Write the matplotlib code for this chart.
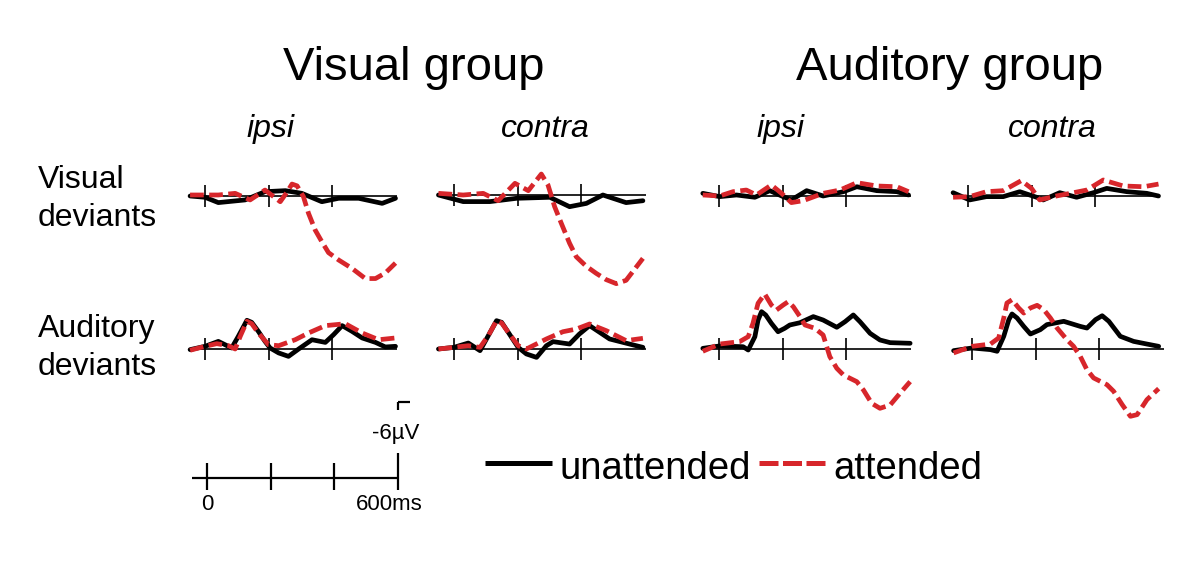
import matplotlib
matplotlib.use("Agg")
import matplotlib.pyplot as plt

plt.rcParams['font.family'] = ['Liberation Sans', 'DejaVu Sans']

# ---- data (time in ms, amplitude in µV, negative plotted up) ----
groups = ["Visual group", "Auditory group"]
sides = ["ipsi", "contra"]
row_labels = ["Visual\ndeviants", "Auditory\ndeviants"]
legend_labels = ["unattended", "attended"]

# visual deviants, visual group, ipsi
t_vv_ipsi_u = [-47, 0, 42, 126, 189, 253, 305, 368, 421, 484, 558, 600]
v_vv_ipsi_u = [0, 0.1, 0.52, 0.31, -0.34, -0.42, -0.21, 0.45, 0.18, 0.18, 0.58, 0.18]
t_vv_ipsi_a = [-47, 0, 42, 95, 142, 189, 237, 258, 274, 290, 310, 326, 347, 368, 389, 421, 463, 505, 537, 568, 600]
v_vv_ipsi_a = [-0.08, -0.08, -0.08, -0.21, 0.31, -0.47, 0.45, -0.3, -0.94, -0.8, 0.05, 1.36, 2.68, 3.6, 4.46, 5.04, 5.7, 6.5, 6.5, 6.06, 5.28]
# visual deviants, visual group, contra
t_vv_contra_u = [-49, 29, 113, 197, 302, 364, 417, 469, 542, 595]
v_vv_contra_u = [0, 0.52, 0.52, 0.26, 0.18, 0.92, 0.66, 0, 0.6, 0.45]
t_vv_contra_a = [-49, 29, 92, 139, 192, 234, 275, 296, 317, 338, 364, 385, 416, 448, 479, 511, 542, 595]
v_vv_contra_a = [-0.13, 0, -0.13, 0.45, -0.92, -0.34, -1.65, -0.79, 0.92, 2.23, 3.8, 4.86, 5.6, 6.17, 6.66, 6.98, 6.72, 4.99]
# visual deviants, auditory group, ipsi
t_va_ipsi_u = [-51, 2, 55, 113, 160, 202, 228, 276, 328, 392, 434, 497, 560, 597]
v_va_ipsi_u = [-0.21, 0.05, -0.08, 0.1, -0.42, 0.05, 0.31, -0.42, 0, -0.34, -0.73, -0.42, -0.34, -0.08]
t_va_ipsi_a = [-51, 2, 44, 86, 118, 165, 197, 228, 265, 328, 381, 434, 497, 560, 597]
v_va_ipsi_a = [-0.08, 0, -0.34, -0.47, -0.08, -0.87, -0.21, 0.52, 0.37, -0.21, -0.47, -1.05, -0.79, -0.73, -0.34]
# visual deviants, auditory group, contra
t_va_contra_u = [-47, 5, 58, 111, 163, 216, 237, 289, 342, 395, 437, 500, 563, 600]
v_va_contra_u = [-0.26, 0.31, 0.05, 0.05, -0.34, 0.1, 0.31, -0.26, 0.1, -0.26, -0.6, -0.34, -0.21, 0]
t_va_contra_a = [-47, 5, 58, 111, 168, 200, 226, 268, 332, 374, 426, 489, 553, 600]
v_va_contra_a = [0.1, 0.05, -0.34, -0.42, -1.21, -0.6, 0.31, 0.05, -0.26, -0.47, -1.26, -0.79, -0.73, -0.94]

# auditory deviants, visual group, ipsi
t_av_ipsi_u = [-47, 0, 42, 84, 105, 132, 147, 168, 189, 205, 232, 263, 295, 337, 379, 405, 432, 463, 495, 537, 568, 600]
v_av_ipsi_u = [0.05, -0.21, -0.6, -0.08, -1.0, -2.26, -2.1, -1.39, -0.6, -0.08, 0.31, 0.58, 0, -0.73, -0.52, -1.13, -1.84, -1.39, -0.87, -0.52, -0.16, -0.21]
t_av_ipsi_a = [-47, 0, 37, 74, 95, 111, 132, 147, 168, 200, 232, 284, 326, 379, 442, 495, 547, 600]
v_av_ipsi_a = [0.1, -0.21, -0.42, -0.26, 0, -1.0, -2.18, -2.0, -1.26, -0.34, -0.26, -0.73, -1.26, -1.84, -1.99, -1.26, -0.73, -0.87]
# auditory deviants, visual group, contra
t_av_contra_u = [-49, 0, 45, 82, 108, 134, 150, 171, 202, 228, 260, 291, 312, 364, 395, 427, 459, 490, 553, 595]
v_av_contra_u = [0, -0.13, -0.47, 0.13, -1.05, -2.23, -2.1, -1.31, -0.13, 0.39, 0.66, -0.26, -0.58, -0.39, -1.18, -1.84, -1.31, -0.79, -0.39, -0.13]
t_av_contra_a = [-49, 0, 45, 82, 108, 134, 150, 171, 202, 228, 291, 343, 385, 427, 480, 542, 595]
v_av_contra_a = [0, -0.13, -0.26, -0.13, -1.05, -2.23, -2.05, -1.31, -0.26, 0, -0.79, -1.36, -1.57, -1.97, -1.44, -0.66, -0.84]
# auditory deviants, auditory group, ipsi
t_aa_ipsi_u = [-51, 2, 76, 92, 113, 123, 134, 147, 165, 186, 207, 223, 255, 297, 328, 371, 397, 423, 444, 476, 507, 539, 602]
v_aa_ipsi_u = [-0.05, -0.24, -0.18, 0.08, -0.97, -2.28, -2.94, -2.68, -2.02, -1.36, -1.63, -1.89, -2.07, -2.55, -2.28, -1.71, -2.15, -2.68, -2.15, -1.23, -0.71, -0.5, -0.45]
t_aa_ipsi_a = [-51, 2, 65, 92, 107, 123, 144, 165, 181, 202, 218, 234, 255, 271, 302, 328, 349, 371, 392, 434, 455, 481, 507, 539, 570, 602]
v_aa_ipsi_a = [0.18, -0.39, -0.58, -0.97, -2.02, -3.6, -4.33, -3.46, -3.07, -3.46, -3.73, -3.33, -2.55, -1.89, -1.63, -1.1, 0.6, 1.52, 2.05, 2.57, 3.23, 4.28, 4.67, 4.41, 3.49, 2.57]
# auditory deviants, auditory group, contra
t_aa_contra_u = [-58, 0, 58, 79, 100, 116, 126, 142, 163, 184, 215, 236, 289, 341, 362, 389, 410, 431, 467, 509, 551, 588]
v_aa_contra_u = [0.13, -0.08, 0.05, 0.18, -1.0, -2.31, -2.76, -2.44, -1.78, -1.18, -1.52, -1.92, -2.18, -1.78, -1.65, -2.31, -2.62, -2.18, -1.0, -0.6, -0.39, -0.21]
t_aa_contra_a = [-58, 0, 58, 84, 100, 110, 126, 147, 163, 184, 205, 226, 247, 268, 299, 320, 341, 362, 383, 425, 446, 473, 499, 520, 551, 588]
v_aa_contra_a = [0.31, -0.21, -0.39, -0.87, -2.44, -3.62, -3.88, -3.23, -2.83, -3.23, -3.44, -3.1, -2.44, -1.65, -0.73, -0.21, 0.58, 1.63, 2.28, 2.81, 3.33, 4.38, 5.3, 5.17, 3.99, 3.12]

time_ticks = [0, 200, 400]

# ---- layout (pixels) ----
W, H = 1200, 567
PX_MS = 0.3175
PX_UV = 12.7
XLIM = (-70, 640)
YLIM = (-6.5, 7.5)
RED = '#d7262b'

fig = plt.figure(figsize=(W / 100, H / 100), dpi=100)


def px_axes(x0, yb):
    left = x0 + XLIM[0] * PX_MS
    width = (XLIM[1] - XLIM[0]) * PX_MS
    top = yb + YLIM[0] * PX_UV
    height = (YLIM[1] - YLIM[0]) * PX_UV
    ax = fig.add_axes([left / W, 1 - (top + height) / H, width / W, height / H])
    ax.set_xlim(*XLIM)
    ax.set_ylim(YLIM[1], YLIM[0])
    ax.axis('off')
    return ax


panels = [
    (205, 196, (t_vv_ipsi_u, v_vv_ipsi_u), (t_vv_ipsi_a, v_vv_ipsi_a)),
    (454, 195, (t_vv_contra_u, v_vv_contra_u), (t_vv_contra_a, v_vv_contra_a)),
    (719, 196, (t_va_ipsi_u, v_va_ipsi_u), (t_va_ipsi_a, v_va_ipsi_a)),
    (968, 196, (t_va_contra_u, v_va_contra_u), (t_va_contra_a, v_va_contra_a)),
    (205, 349, (t_av_ipsi_u, v_av_ipsi_u), (t_av_ipsi_a, v_av_ipsi_a)),
    (454, 349, (t_av_contra_u, v_av_contra_u), (t_av_contra_a, v_av_contra_a)),
    (719, 349, (t_aa_ipsi_u, v_aa_ipsi_u), (t_aa_ipsi_a, v_aa_ipsi_a)),
    (972, 349, (t_aa_contra_u, v_aa_contra_u), (t_aa_contra_a, v_aa_contra_a)),
]

for x0, yb, (tu, vu), (ta, va) in panels:
    ax = px_axes(x0, yb)
    ax.hlines(0, -48, 605, color='black', lw=1.2)
    ax.vlines(time_ticks, -0.87, 0.87, color='black', lw=1.2)
    ax.plot(tu, vu, color='black', lw=3.4, solid_joinstyle='round',
            solid_capstyle='round', clip_on=False, zorder=3)
    ax.plot(ta, va, color=RED, lw=3.4, dashes=(2.9, 1.15),
            dash_joinstyle='round', clip_on=False, zorder=4)

# ---- scale bar ----
sb = px_axes(207, 478)
sb.hlines(0, -47, 600, color='black', lw=1.6)
sb.vlines(time_ticks, -1.18, 0.94, color='black', lw=1.6)
sb.vlines(600, -1.97, 0.94, color='black', lw=1.6)
sb.vlines(600, -5.98, -5.35, color='black', lw=1.6)
sb.hlines(-5.98, 600, 638, color='black', lw=1.6)

# ---- text ----
def fx(px):
    return px / W


def fy(py):
    return 1 - py / H


fig.text(fx(414), fy(80), groups[0], ha='center', va='baseline', fontsize=34)
fig.text(fx(950), fy(80), groups[1], ha='center', va='baseline', fontsize=34)
for cx, s in zip([270, 545, 780, 1052], sides * 2):
    fig.text(fx(cx), fy(137), s, ha='center', va='baseline', fontsize=23, style='italic')

for base, lab in zip([188, 337], row_labels):
    for i, line in enumerate(lab.split("\n")):
        fig.text(fx(38), fy(base + 38 * i), line, ha='left', va='baseline', fontsize=23)

fig.text(fx(207), fy(510), "0", ha='center', va='baseline', fontsize=16)
fig.text(fx(389), fy(510), "600ms", ha='center', va='baseline', fontsize=16)
fig.text(fx(419), fy(439), "-6µV", ha='right', va='baseline', fontsize=16)

# legend drawn as lines + text
lg = fig.add_axes([0, 0, 1, 1])
lg.set_xlim(0, W)
lg.set_ylim(H, 0)
lg.axis('off')
lg.plot([485, 552], [463, 463], color='black', lw=3.6, solid_capstyle='butt')
lg.plot([759, 825], [463, 463], color=RED, lw=3.6, dashes=(3.8, 0.9))
lg.text(560, 479, legend_labels[0], ha='left', va='baseline', fontsize=27.5)
lg.text(833, 479, legend_labels[1], ha='left', va='baseline', fontsize=27.5)

fig.savefig("out.png", dpi=100, facecolor='white')
